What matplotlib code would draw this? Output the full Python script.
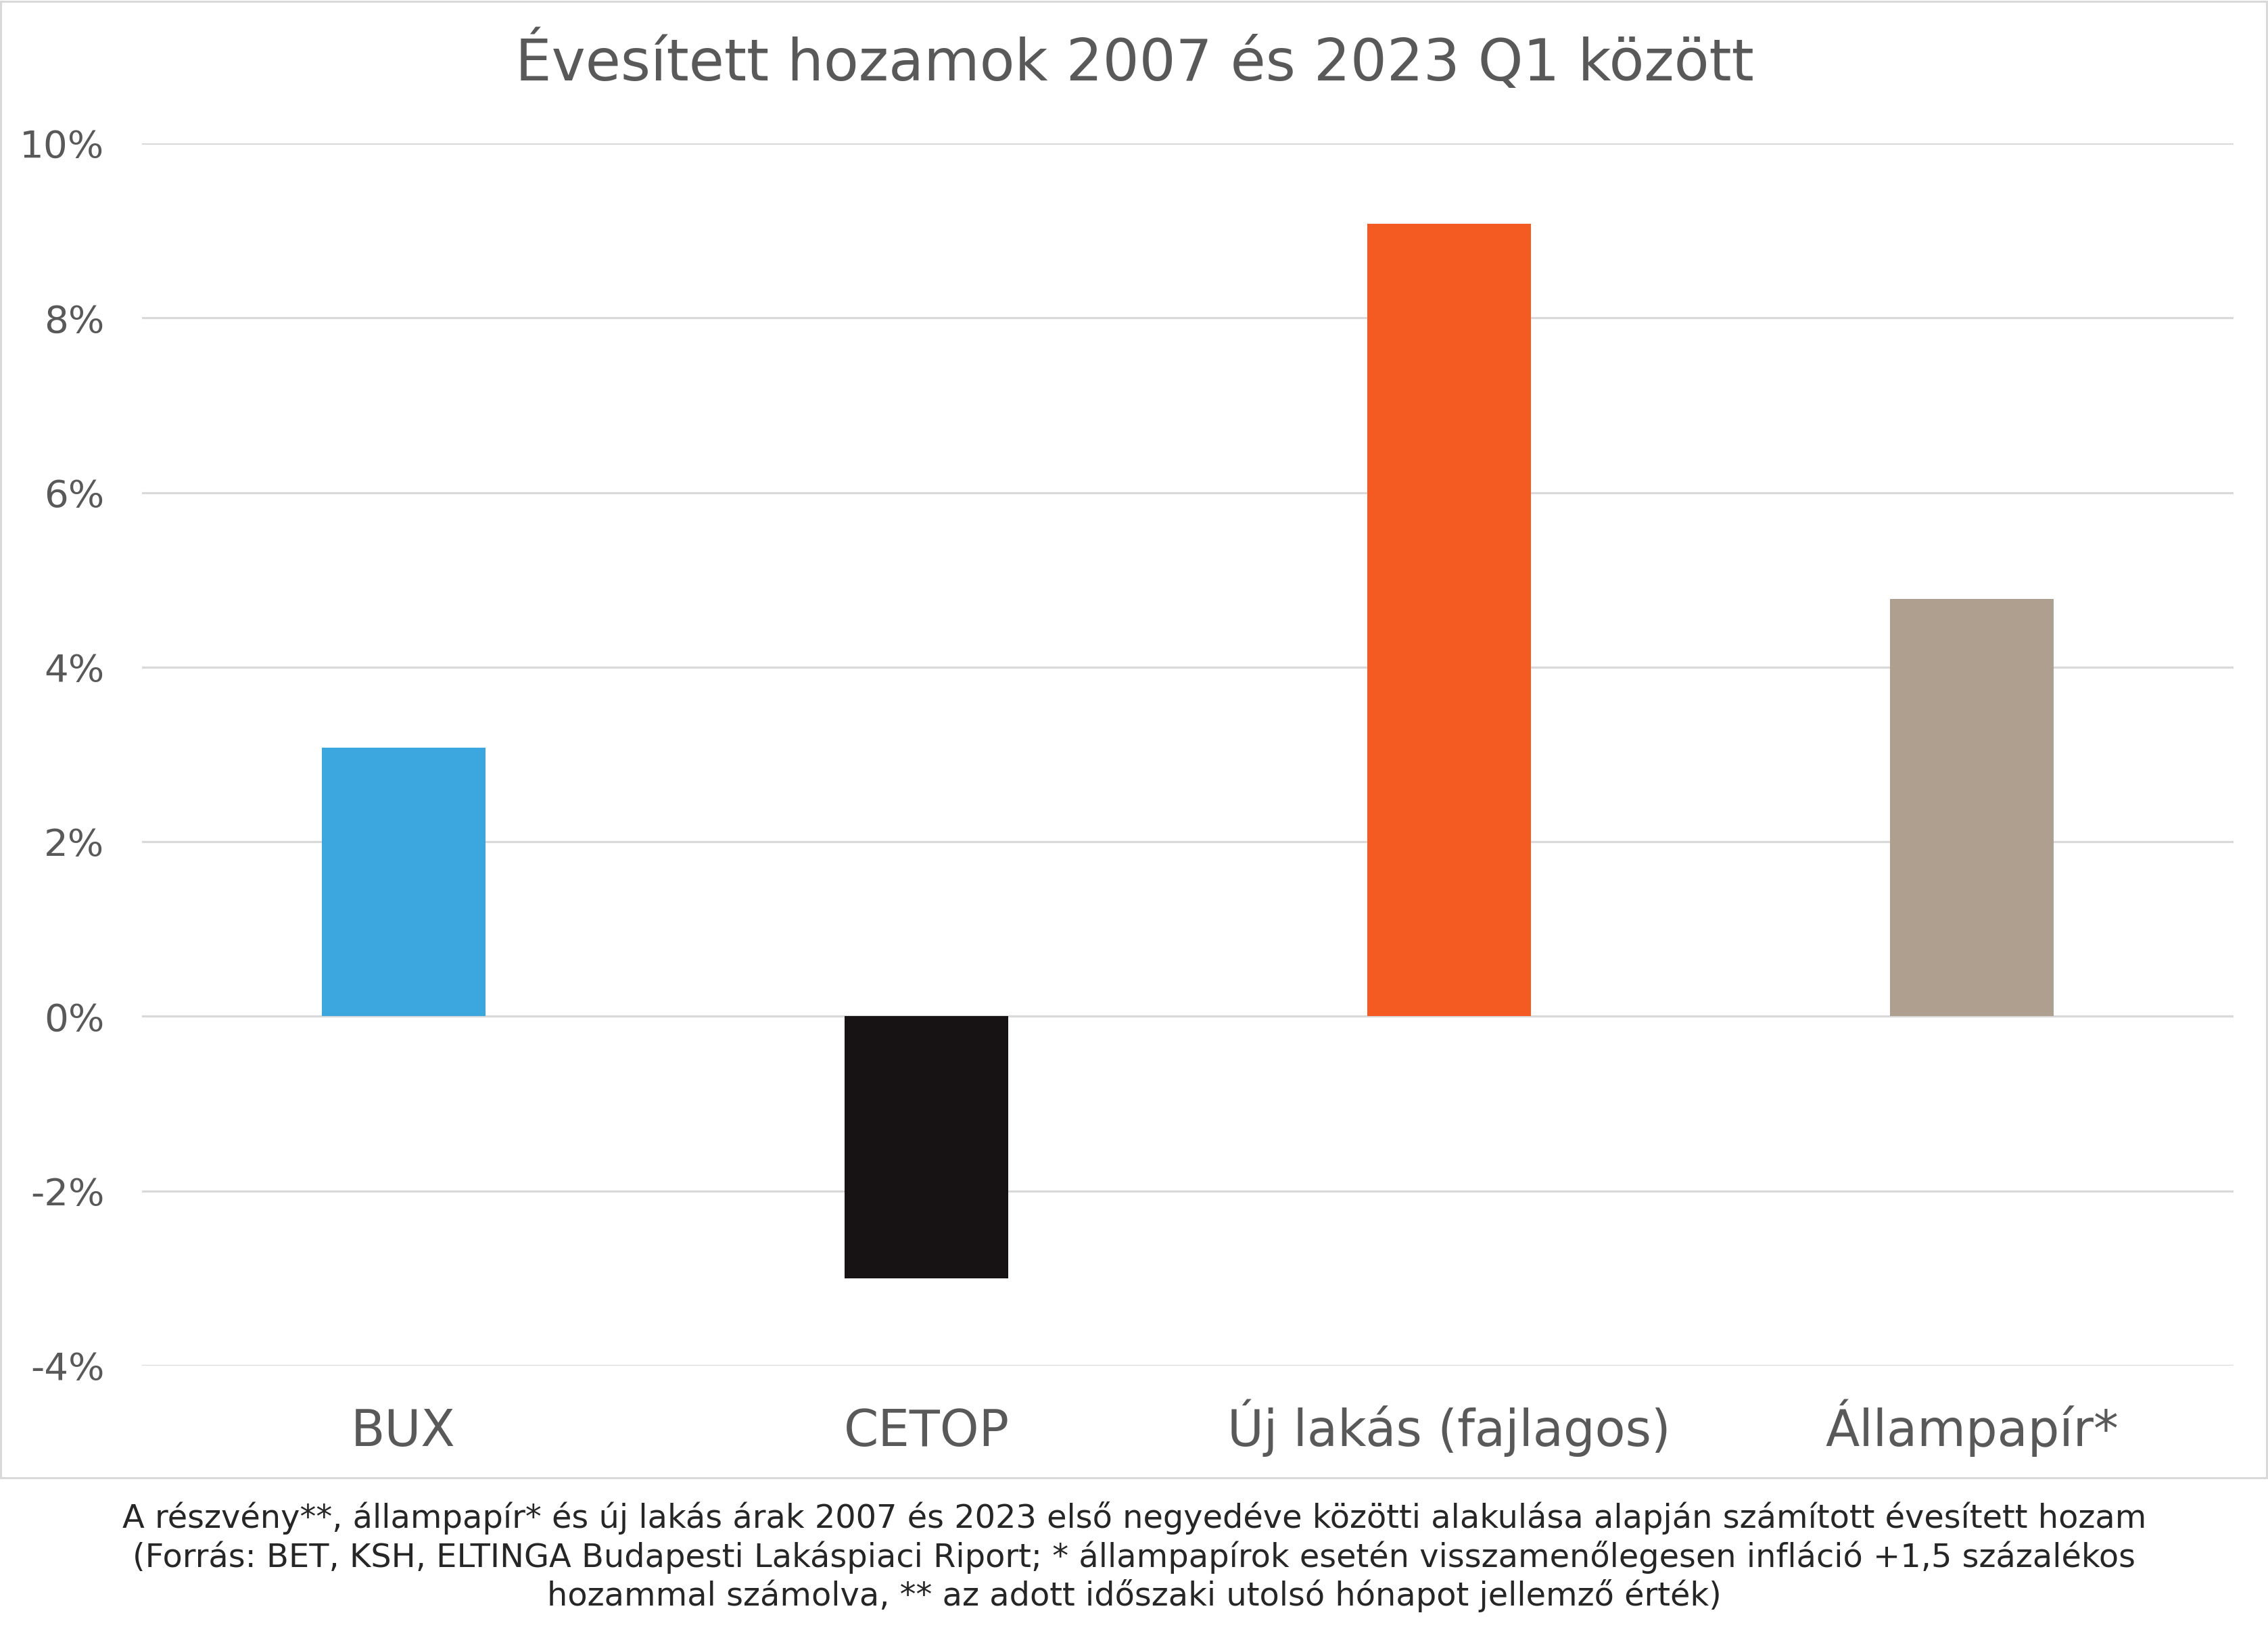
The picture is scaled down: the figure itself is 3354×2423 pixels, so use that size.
import matplotlib
matplotlib.use("Agg")
import matplotlib.pyplot as plt
from matplotlib.patches import Rectangle
from matplotlib.ticker import FuncFormatter

categories = ["BUX", "CETOP", "Új lakás (fajlagos)", "Állampapír*"]
values = [3.08, -3.0, 9.08, 4.78]
colors = ["#3CA6DF", "#171314", "#F35B22", "#AF9F8E"]
yticks = [-4, -2, 0, 2, 4, 6, 8, 10]
title = "Évesített hozamok 2007 és 2023 Q1 között"
footnote = ("A részvény**, állampapír* és új lakás árak 2007 és 2023 első negyedéve közötti alakulása alapján számított évesített hozam\n"
            "(Forrás: BET, KSH, ELTINGA Budapesti Lakáspiaci Riport; * állampapírok esetén visszamenőlegesen infláció +1,5 százalékos\n"
            "hozammal számolva, ** az adott időszaki utolsó hónapot jellemző érték)")

plt.rcParams['font.family'] = ['DejaVu Sans']
TXT = "#595959"
GRID = "#D9D9D9"

W, H = 3355, 2423
fig = plt.figure(figsize=(W / 100, H / 100), dpi=100)
fig.patch.set_facecolor("white")

ax = fig.add_axes([210 / W, 1 - 2020 / H, (3303 - 210) / W, (2020 - 212) / H])
x = range(len(categories))
ax.bar(x, values, width=0.313, color=colors, zorder=3)
ax.set_xlim(-0.5, len(categories) - 0.5)
ax.set_ylim(-4, 10)
ax.set_yticks(yticks)
ax.yaxis.set_major_formatter(FuncFormatter(lambda v, p: f"{int(v)}%"))
ax.set_xticks(list(x))
ax.set_xticklabels(categories)
ax.grid(axis="y", color=GRID, linewidth=2.3, zorder=0)
ax.set_axisbelow(True)
for s in ax.spines.values():
    s.set_visible(False)
ax.tick_params(axis="y", length=0, pad=40, labelsize=40.5, labelcolor=TXT)
ax.tick_params(axis="x", length=0, pad=86, labelsize=53, labelcolor=TXT)
for lbl in ax.get_xticklabels():
    lbl.set_verticalalignment("baseline")

fig.text(0.5, 1 - 92 / H, title, ha="center", va="center", fontsize=61, color=TXT)

fig.patches.append(Rectangle((1.5 / W, 1 - 2186 / H), (W - 4) / W, (2186 - 2) / H,
                             transform=fig.transFigure, fill=False,
                             edgecolor=GRID, linewidth=2.2))

fig.text(0.5, 1 - 2303 / H, footnote, ha="center", va="center", fontsize=34.5,
         color="#262626", linespacing=1.22)

fig.savefig("out.png", dpi=100, facecolor="white")
